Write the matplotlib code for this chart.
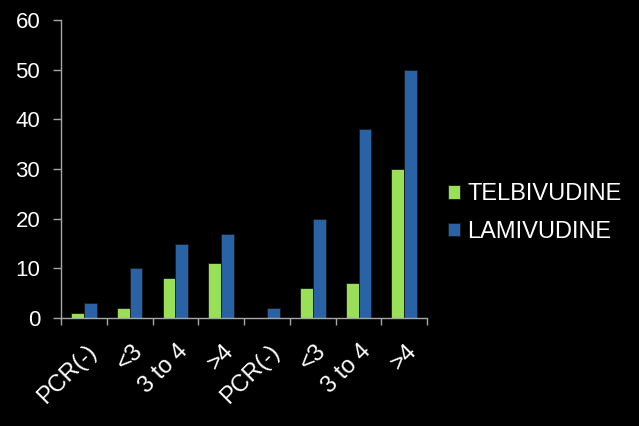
import matplotlib
matplotlib.use("Agg")
import matplotlib.pyplot as plt
import numpy as np

plt.rcParams['font.family'] = ['Liberation Sans', 'DejaVu Sans']

categories = ["PCR(-)", "<3", "3 to 4", ">4", "PCR(-)", "<3", "3 to 4", ">4"]
telbivudine = [1, 2, 8, 11, 0, 6, 7, 30]
lamivudine = [3, 10, 15, 17, 2, 20, 38, 50]

green = "#9ADF58"
blue = "#2A62A6"
axis_col = "#A6A6A6"

fig = plt.figure(figsize=(6.39, 4.26), dpi=100, facecolor="black")
ax = fig.add_axes([0.0955, 0.2535, 0.573, 0.6995], facecolor="black")

x = np.arange(len(categories))
w = 0.28
ax.bar(x - w / 2, telbivudine, w, color=green, edgecolor="#1a1a1a", linewidth=0.6, label="TELBIVUDINE")
ax.bar(x + w / 2, lamivudine, w, color=blue, edgecolor="#1a1a1a", linewidth=0.6, label="LAMIVUDINE")

ax.set_xlim(-0.5, len(categories) - 0.5)
ax.set_ylim(0, 60)
ax.set_yticks(range(0, 61, 10))

# category boundary ticks on the x axis
ax.set_xticks(np.arange(len(categories) + 1) - 0.5)
ax.set_xticklabels([])
ax.set_xticks(x + 0.04, minor=True)
ax.set_xticklabels(categories, minor=True, rotation=45, ha="right", va="top",
                   rotation_mode="anchor", color="white", fontsize=17)
ax.tick_params(axis="x", which="minor", length=0, pad=16)
ax.tick_params(axis="x", which="major", length=5, color=axis_col, width=1)
ax.tick_params(axis="y", length=6, color=axis_col, width=1, labelcolor="white", labelsize=16, pad=9)

for s in ["top", "right"]:
    ax.spines[s].set_visible(False)
for s in ["left", "bottom"]:
    ax.spines[s].set_color(axis_col)
    ax.spines[s].set_linewidth(1)

leg = ax.legend(loc="center left", bbox_to_anchor=(1.0, 0.352), frameon=False,
                fontsize=17, handlelength=0.5, handleheight=0.5, handletextpad=0.3,
                labelspacing=0.65)
for t in leg.get_texts():
    t.set_color("white")

fig.savefig("out.png", dpi=100, facecolor="black")
